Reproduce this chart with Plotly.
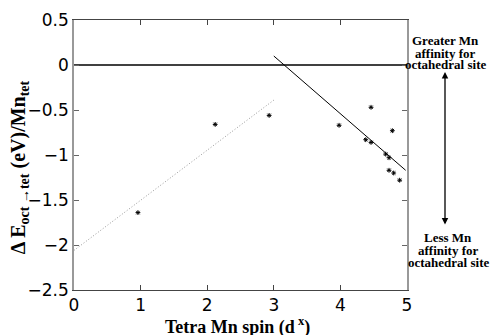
import plotly.graph_objects as go

# data points (tetra Mn spin, energy)
spin = [0.96, 2.12, 2.93, 3.98, 4.38, 4.46, 4.46, 4.68, 4.73, 4.78, 4.73, 4.80, 4.89]
energy = [-1.64, -0.66, -0.56, -0.67, -0.83, -0.47, -0.86, -0.99, -1.03, -0.73, -1.17, -1.20, -1.28]

# fitted trend lines
low_fit_x = [0.0, 3.0]
low_fit_y = [-2.06, -0.39]
high_fit_x = [3.0, 4.98]
high_fit_y = [0.10, -1.17]
zero_x = [0, 5]
zero_y = [0, 0]

y_ticks = [0.5, 0, -0.5, -1, -1.5, -2, -2.5]
y_tick_labels = ["0.5", "0", "\u22120.5", "\u22121", "\u22121.5", "\u22122", "\u22122.5"]
x_ticks = [0, 1, 2, 3, 4, 5]

top_note = ["Greater Mn", "affinity for", "octahedral site"]
bottom_note = ["Less Mn", "affinity for", "octahedral site"]

fig = go.Figure()
fig.add_trace(go.Scatter(x=zero_x, y=zero_y, mode="lines",
                         line=dict(color="black", width=1.3), hoverinfo="skip"))
fig.add_trace(go.Scatter(x=low_fit_x, y=low_fit_y, mode="lines",
                         line=dict(color="#999999", width=1, dash="1px,2px")))
fig.add_trace(go.Scatter(x=high_fit_x, y=high_fit_y, mode="lines",
                         line=dict(color="black", width=1)))
fig.add_trace(go.Scatter(x=spin, y=energy, mode="markers",
                         marker=dict(symbol="asterisk-open", size=4, color="black",
                                     line=dict(color="black", width=1))))

tick_font = dict(family="DejaVu Sans, sans-serif", size=17, color="black")
title_font = dict(family="Liberation Serif, Times New Roman, serif", size=18, color="black")
ytitle_font = dict(family="Liberation Serif, Times New Roman, serif", size=20, color="black")

fig.update_layout(
    width=491, height=335,
    margin=dict(l=74, r=84, t=20, b=45, autoexpand=False),
    paper_bgcolor="white", plot_bgcolor="white",
    showlegend=False,
    xaxis=dict(range=[0, 5], tickvals=x_ticks, ticks="inside", ticklen=5,
               tickcolor="#444", showline=True, linecolor="#444", linewidth=1,
               mirror="ticks", showgrid=False, zeroline=False, automargin=False,
               tickfont=tick_font),
    yaxis=dict(range=[-2.5, 0.5], tickvals=y_ticks, ticktext=y_tick_labels,
               ticks="inside", ticklen=5, tickcolor="#666",
               showline=True, linecolor="#999", linewidth=1.5,
               mirror="ticks", showgrid=False, zeroline=False, automargin=False,
               tickfont=tick_font),
)

# axis titles
fig.add_annotation(xref="paper", yref="paper", x=0.49, y=0, yshift=-22,
                   xanchor="center", yanchor="top", showarrow=False,
                   text="<b>Tetra Mn spin (d<sup> x</sup>)</b>", font=title_font)
fig.add_annotation(xref="paper", yref="paper", x=-0.165, y=0.455,
                   xanchor="center", yanchor="middle", showarrow=False, textangle=-90,
                   text="<b>\u0394 E<sub>oct \u2192tet</sub> (eV)/Mn<sub>tet</sub></b>",
                   font=ytitle_font)

ann_font = dict(family="Liberation Serif, Times New Roman, serif", size=13, color="black")
top_y = [41, 53, 64]
bottom_y = [238, 250, 262]
for txt, py in zip(top_note, top_y):
    fig.add_annotation(xref="paper", yref="paper", x=(446 - 74) / 333, y=(290 - py) / 270,
                       xanchor="center", yanchor="middle", showarrow=False,
                       text="<b>" + txt + "</b>", font=ann_font)
for txt, py in zip(bottom_note, bottom_y):
    fig.add_annotation(xref="paper", yref="paper", x=(448 - 74) / 333, y=(290 - py) / 270,
                       xanchor="center", yanchor="middle", showarrow=False,
                       text="<b>" + txt + "</b>", font=ann_font)
fig.add_annotation(xref="paper", yref="paper", x=(445 - 74) / 333, y=(290 - 72) / 270,
                   ax=0, ay=154, text="", showarrow=True, arrowhead=2,
                   arrowside="end+start", arrowsize=1, arrowwidth=1.3, arrowcolor="black")

fig.write_html("out.html", config={"displayModeBar": False},
               post_script="document.body.style.margin='0';document.body.style.overflow='hidden';")
